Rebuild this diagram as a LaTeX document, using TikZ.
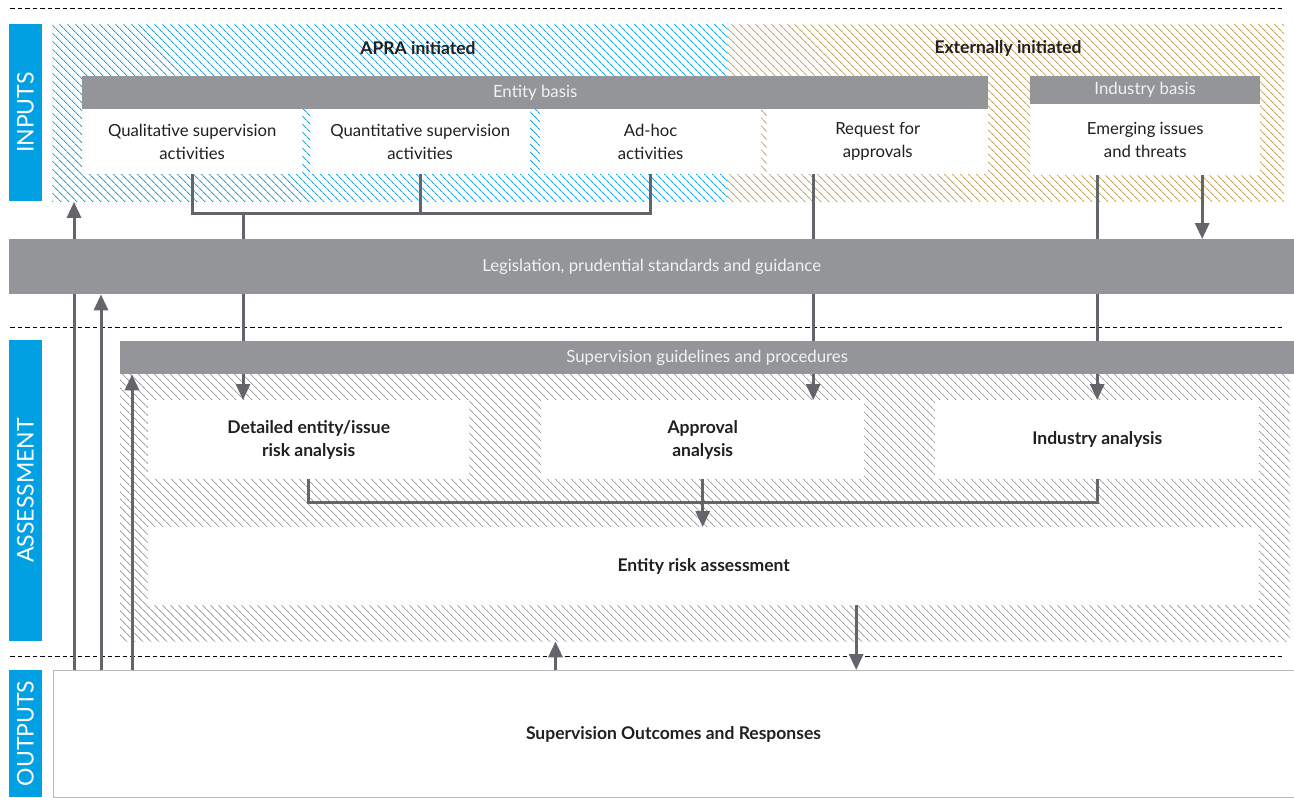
\documentclass[tikz,border=0pt]{standalone}
\usepackage{fontspec}
\setmainfont{Lato}
\usetikzlibrary{patterns.meta,arrows.meta,calc}
\definecolor{apblue}{RGB}{0,160,227}
\definecolor{hblue}{RGB}{20,165,225}
\definecolor{hgold}{RGB}{196,166,92}
\definecolor{hgray}{RGB}{160,160,160}
\definecolor{bargray}{RGB}{147,149,152}
\definecolor{arrgray}{RGB}{100,101,106}
\definecolor{bartext}{RGB}{242,242,242}
\definecolor{txt}{RGB}{35,31,32}
\definecolor{outline}{RGB}{185,185,185}
\pgfdeclarelayer{bg}
\pgfdeclarelayer{hatch}
\pgfdeclarelayer{lines}
\pgfsetlayers{bg,hatch,lines,main}
\begin{document}
\begin{tikzpicture}[x=1pt,y=-1pt,
  sidebar/.style={fill=apblue, text=white, rotate=90, inner sep=0pt, font=\fontsize{23}{26}\selectfont},
  hatcharea/.style={inner sep=0pt, anchor=north west, draw=none},
  whitebox/.style={fill=white, inner sep=0pt, anchor=north west, align=center, text=txt, font=\fontsize{16.7}{23}\selectfont},
  boldbox/.style={whitebox, font=\fontsize{17.5}{23}\selectfont\bfseries},
  bar/.style={fill=bargray, inner sep=0pt, anchor=north west, text=bartext, font=\fontsize{16.8}{19}\selectfont},
  head/.style={text=txt, font=\fontsize{17.5}{19}\selectfont\bfseries, inner sep=0pt},
  sepline/.style={draw=black, line width=0.8pt, dash pattern=on 4.5pt off 3pt},
  ln/.style={draw=arrgray, line width=3pt},
  arr/.style={ln, -{Triangle[width=14pt,length=16pt]}}
]
\begin{pgfonlayer}{bg}
\fill[white] (0,0) rectangle (1294,798);
\end{pgfonlayer}
\useasboundingbox (0,0) rectangle (1294,798);

\begin{pgfonlayer}{hatch}
\node[hatcharea, pattern={Lines[angle=-45,distance=5.4pt,line width=0.9pt]}, pattern color=hblue,
  minimum width=675pt, minimum height=177pt] (ihatch) at (52,24) {};
\node[hatcharea, pattern={Lines[angle=-45,distance=5.4pt,line width=0.9pt]}, pattern color=hgold,
  minimum width=557pt, minimum height=177pt] (ehatch) at (727,24) {};
\node[hatcharea, pattern={Lines[angle=-45,distance=5.4pt,line width=0.9pt]}, pattern color=hgray,
  minimum width=1170pt, minimum height=267pt] (ahatch) at (120,374) {};
\draw[sepline] (10,8) -- (1284,8);
\draw[sepline] (10,327) -- (1284,327);
\draw[sepline] (10,656) -- (1284,656);
\end{pgfonlayer}

% side bars
\node[sidebar, minimum width=177pt, minimum height=33pt] (sin) at (25.5,112.5) {INPUTS};
\node[sidebar, minimum width=301pt, minimum height=33pt] (sas) at (25.5,490.5) {ASSESSMENT};
\node[sidebar, minimum width=127pt, minimum height=33pt] (sou) at (25.5,733.5) {OUTPUTS};

% headings
\node[head] (apra) at (418,48) {APRA initiated};
\node[head] (ext) at (1008,48) {Externally initiated};

% input bars and boxes
\node[bar, minimum width=906pt, minimum height=33pt] (ebasis) at (82,76) {Entity basis};
\node[bar, minimum width=230pt, minimum height=28pt] (ibasis) at (1030,76) {Industry basis};
\node[whitebox, minimum width=220pt, minimum height=65pt] (qual) at (82,109) {Qualitative supervision\\activities};
\node[whitebox, minimum width=220pt, minimum height=65pt] (quant) at (310,109) {Quantitative supervision\\activities};
\node[whitebox, minimum width=221pt, minimum height=65pt] (adhoc) at (540,109) {Ad-hoc\\activities};
\node[whitebox, minimum width=221pt, minimum height=65pt] (req) at (767,109) {Request for\\approvals};
\node[whitebox, minimum width=230pt, minimum height=71pt] (emerg) at (1030,104) {Emerging issues\\and threats};

% legislation
\node[bar, minimum width=1285pt, minimum height=55pt] (leg) at (9,239) {Legislation, prudential standards and guidance};
\node[bar, minimum width=1174pt, minimum height=33pt] (sup) at (120,341) {Supervision guidelines and procedures};

% assessment boxes
\node[boldbox, minimum width=321pt, minimum height=79pt] (det) at (148,400) {Detailed entity/issue\\risk analysis};
\node[boldbox, minimum width=323pt, minimum height=79pt] (appr) at (541,400) {Approval\\analysis};
\node[boldbox, minimum width=324pt, minimum height=79pt] (ind) at (935,400) {Industry analysis};
\node[boldbox, minimum width=1111pt, minimum height=78pt] (era) at (148,527) {Entity risk assessment};

% outputs
\node[boldbox, draw=outline, line width=1pt, minimum width=1241pt, minimum height=127pt] (out) at (52.5,670) {Supervision Outcomes and Responses};

\begin{pgfonlayer}{lines}
% inputs junction
\coordinate (jy) at (0,213);
\draw[ln] (qual.south) -- (qual.south |- jy) -- (adhoc.south |- jy) -- (adhoc.south);
\draw[ln] (quant.south) -- (quant.south |- jy);
\coordinate (j1) at (243,213);
\draw[arr] (j1) -- (j1 |- det.north);
\coordinate (rqs) at ([xshift=-64.5pt]req.south);
\draw[arr] (rqs) -- (rqs |- appr.north);
\coordinate (ems1) at ([xshift=-48pt]emerg.south);
\coordinate (ems2) at ([xshift=57pt]emerg.south);
\draw[arr] (ems1) -- (ems1 |- ind.north);
\draw[arr] (ems2) -- (ems2 |- leg.north);
% assessment junction
\coordinate (ky) at (0,502);
\draw[ln] (det.south) -- (det.south |- ky) -- (ind.south |- ky) -- (ind.south);
\draw[arr] (appr.south) -- (appr.south |- era.north);
\coordinate (ers) at ([xshift=152.5pt]era.south);
\draw[arr] (ers) -- (ers |- out.north);
% outputs feedback
\coordinate (o1) at ([xshift=-118pt]out.north);
\draw[arr] (o1) -- (o1 |- ahatch.south);
\coordinate (l1) at ([xshift=21.5pt]out.north west);
\coordinate (l2) at ([xshift=48.5pt]out.north west);
\coordinate (l3) at ([xshift=79.5pt]out.north west);
\draw[arr] (l1) -- (l1 |- ihatch.south);
\draw[arr] (l2) -- (l2 |- leg.south);
\draw[arr] (l3) -- (l3 |- sup.south);
\end{pgfonlayer}
\end{tikzpicture}
\end{document}
